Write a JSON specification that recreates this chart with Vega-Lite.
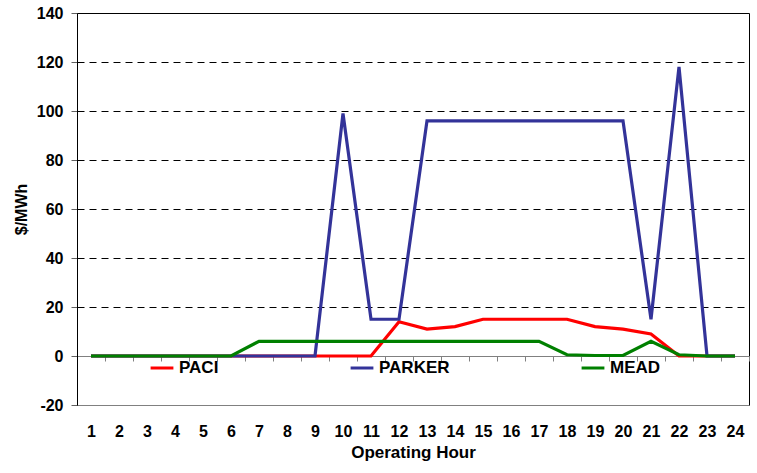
{
  "$schema": "https://vega.github.io/schema/vega-lite/v6.json",
  "width": 672,
  "height": 392,
  "autosize": {"type": "none"},
  "padding": {"left": 77, "top": 13, "right": 8, "bottom": 68},
  "background": "white",
  "config": {
    "font": "Liberation Sans",
    "view": {"stroke": "#000000", "strokeWidth": 1},
    "legend": {
      "orient": "none",
      "legendX": 72,
      "legendY": 342,
      "direction": "horizontal",
      "padding": 0,
      "labelFont": "Liberation Sans",
      "labelFontSize": 17,
      "labelFontWeight": "bold",
      "labelColor": "#000000",
      "labelOffset": 4,
      "symbolType": "stroke",
      "symbolStrokeWidth": 3,
      "symbolSize": 520,
      "columnPadding": 125
    }
  },
  "data": {
    "values": [
      {"hour": 1, "series": "PACI", "value": 0},
      {"hour": 2, "series": "PACI", "value": 0},
      {"hour": 3, "series": "PACI", "value": 0},
      {"hour": 4, "series": "PACI", "value": 0},
      {"hour": 5, "series": "PACI", "value": 0},
      {"hour": 6, "series": "PACI", "value": 0},
      {"hour": 7, "series": "PACI", "value": 0},
      {"hour": 8, "series": "PACI", "value": 0},
      {"hour": 9, "series": "PACI", "value": 0},
      {"hour": 10, "series": "PACI", "value": 0},
      {"hour": 11, "series": "PACI", "value": 0},
      {"hour": 12, "series": "PACI", "value": 14},
      {"hour": 13, "series": "PACI", "value": 11},
      {"hour": 14, "series": "PACI", "value": 12},
      {"hour": 15, "series": "PACI", "value": 15},
      {"hour": 16, "series": "PACI", "value": 15},
      {"hour": 17, "series": "PACI", "value": 15},
      {"hour": 18, "series": "PACI", "value": 15},
      {"hour": 19, "series": "PACI", "value": 12},
      {"hour": 20, "series": "PACI", "value": 11},
      {"hour": 21, "series": "PACI", "value": 9},
      {"hour": 22, "series": "PACI", "value": 0},
      {"hour": 23, "series": "PACI", "value": 0},
      {"hour": 24, "series": "PACI", "value": 0},
      {"hour": 1, "series": "PARKER", "value": 0},
      {"hour": 2, "series": "PARKER", "value": 0},
      {"hour": 3, "series": "PARKER", "value": 0},
      {"hour": 4, "series": "PARKER", "value": 0},
      {"hour": 5, "series": "PARKER", "value": 0},
      {"hour": 6, "series": "PARKER", "value": 0},
      {"hour": 7, "series": "PARKER", "value": 0},
      {"hour": 8, "series": "PARKER", "value": 0},
      {"hour": 9, "series": "PARKER", "value": 0},
      {"hour": 10, "series": "PARKER", "value": 99},
      {"hour": 11, "series": "PARKER", "value": 15},
      {"hour": 12, "series": "PARKER", "value": 15},
      {"hour": 13, "series": "PARKER", "value": 96},
      {"hour": 14, "series": "PARKER", "value": 96},
      {"hour": 15, "series": "PARKER", "value": 96},
      {"hour": 16, "series": "PARKER", "value": 96},
      {"hour": 17, "series": "PARKER", "value": 96},
      {"hour": 18, "series": "PARKER", "value": 96},
      {"hour": 19, "series": "PARKER", "value": 96},
      {"hour": 20, "series": "PARKER", "value": 96},
      {"hour": 21, "series": "PARKER", "value": 15},
      {"hour": 22, "series": "PARKER", "value": 118},
      {"hour": 23, "series": "PARKER", "value": 0},
      {"hour": 24, "series": "PARKER", "value": 0},
      {"hour": 1, "series": "MEAD", "value": 0},
      {"hour": 2, "series": "MEAD", "value": 0},
      {"hour": 3, "series": "MEAD", "value": 0},
      {"hour": 4, "series": "MEAD", "value": 0},
      {"hour": 5, "series": "MEAD", "value": 0},
      {"hour": 6, "series": "MEAD", "value": 0},
      {"hour": 7, "series": "MEAD", "value": 6},
      {"hour": 8, "series": "MEAD", "value": 6},
      {"hour": 9, "series": "MEAD", "value": 6},
      {"hour": 10, "series": "MEAD", "value": 6},
      {"hour": 11, "series": "MEAD", "value": 6},
      {"hour": 12, "series": "MEAD", "value": 6},
      {"hour": 13, "series": "MEAD", "value": 6},
      {"hour": 14, "series": "MEAD", "value": 6},
      {"hour": 15, "series": "MEAD", "value": 6},
      {"hour": 16, "series": "MEAD", "value": 6},
      {"hour": 17, "series": "MEAD", "value": 6},
      {"hour": 18, "series": "MEAD", "value": 0.5},
      {"hour": 19, "series": "MEAD", "value": 0.2},
      {"hour": 20, "series": "MEAD", "value": 0.2},
      {"hour": 21, "series": "MEAD", "value": 6},
      {"hour": 22, "series": "MEAD", "value": 0.5},
      {"hour": 23, "series": "MEAD", "value": 0},
      {"hour": 24, "series": "MEAD", "value": 0}
    ]
  },
  "layer": [
    {
      "mark": {"type": "point", "opacity": 0},
      "encoding": {
        "x": {
          "field": "hour",
          "type": "ordinal",
          "axis": {
            "orient": "bottom",
            "offset": -49,
            "labels": false,
            "title": null,
            "grid": false,
            "domain": true,
            "domainColor": "#808080",
            "domainWidth": 1,
            "ticks": true,
            "tickSize": 5,
            "tickColor": "#808080",
            "tickOffset": 14
          }
        }
      }
    },
    {
      "mark": {"type": "line", "strokeWidth": 3.2},
      "encoding": {
        "x": {
          "field": "hour",
          "type": "ordinal",
          "scale": {"type": "point", "padding": 0.5},
          "axis": {
            "orient": "bottom",
            "labelAngle": 0,
            "labelFontSize": 16,
            "labelFontWeight": "bold",
            "labelColor": "#000000",
            "labelPadding": 18,
            "ticks": false,
            "tickSize": 0,
            "domainColor": "#808080",
            "grid": false,
            "title": "Operating Hour",
            "titleFontSize": 17,
            "titleFontWeight": "bold",
            "titleColor": "#000000",
            "titlePadding": 5
          }
        },
        "y": {
          "field": "value",
          "type": "quantitative",
          "scale": {"domain": [-20, 140], "nice": false, "zero": false},
          "axis": {
            "values": [-20, 0, 20, 40, 60, 80, 100, 120, 140],
            "labelExpr": "'' + datum.value",
            "title": "$/MWh",
            "titleFontSize": 16,
            "titleFontWeight": "bold",
            "titleColor": "#000000",
            "titlePadding": 7,
            "labelFontSize": 16,
            "labelFontWeight": "bold",
            "labelColor": "#000000",
            "labelPadding": 8,
            "tickSize": 6,
            "tickColor": "#606060",
            "domainColor": "#000000",
            "grid": true,
            "gridColor": {"condition": {"test": "datum.value === 0 || datum.value === -20", "value": "#808080"}, "value": "#000000"},
            "gridDash": {"condition": {"test": "datum.value === 0", "value": []}, "value": [7, 5]}
          }
        },
        "color": {
          "field": "series",
          "type": "nominal",
          "sort": ["PACI", "PARKER", "MEAD"],
          "scale": {"domain": ["PACI", "PARKER", "MEAD"], "range": ["#FF0000", "#333399", "#008000"]},
          "legend": {"title": null}
        }
      }
    }
  ],
  "resolve": {"axis": {"x": "independent"}}
}
